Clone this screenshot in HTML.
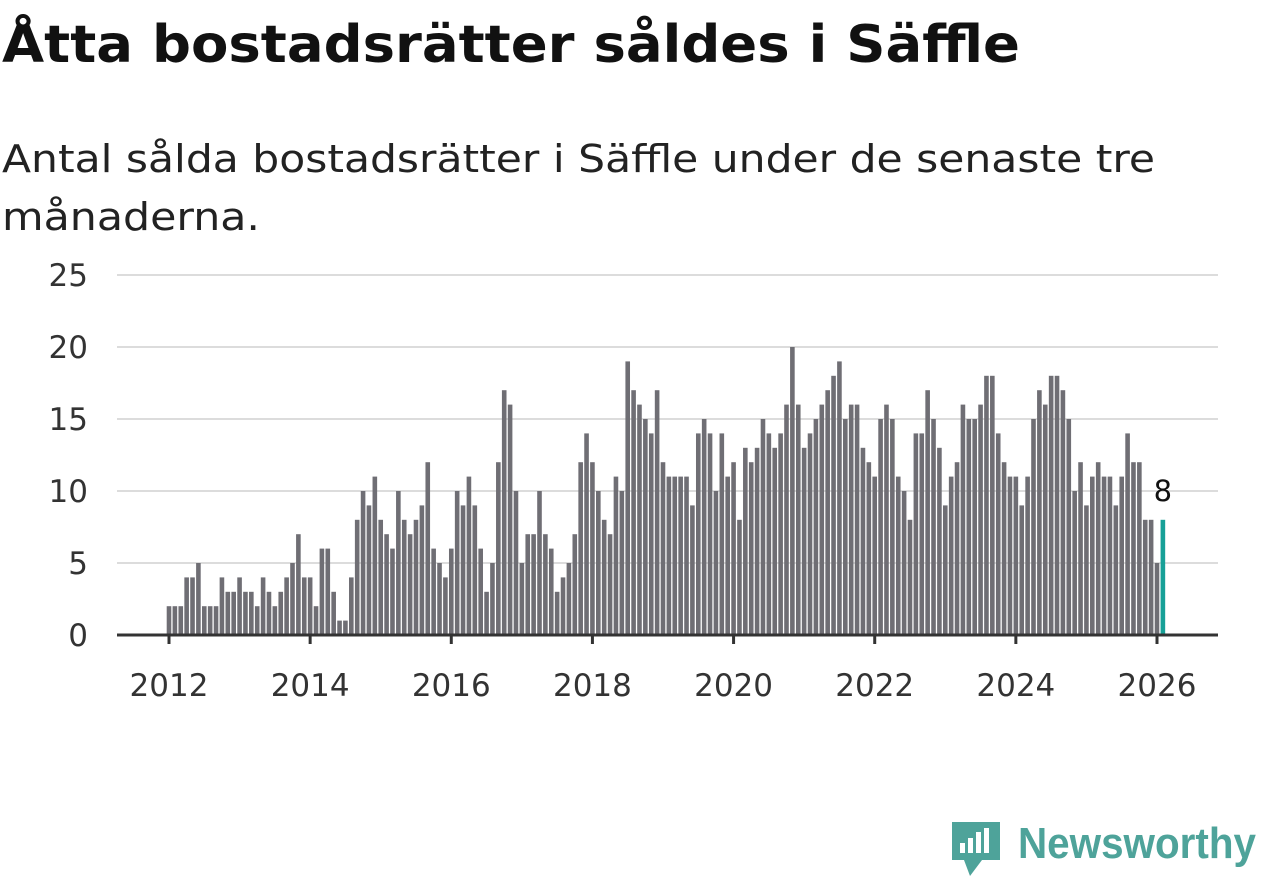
<!DOCTYPE html>
<html><head><meta charset="utf-8">
<style>
html,body{margin:0;padding:0;background:#fff;}
svg{display:block;font-family:"DejaVu Sans","Liberation Sans",sans-serif;}
</style></head>
<body>
<svg id="chart" width="1262" height="879" viewBox="0 0 1262 879">
  <text x="2" y="62" font-size="52" font-weight="bold" fill="#111" textLength="1018" lengthAdjust="spacingAndGlyphs">Åtta bostadsrätter såldes i Säffle</text>
  <text x="2" y="172" font-size="38" fill="#222" textLength="1153" lengthAdjust="spacingAndGlyphs">Antal sålda bostadsrätter i Säffle under de senaste tre</text>
  <text x="2" y="230" font-size="38" fill="#222" textLength="258" lengthAdjust="spacingAndGlyphs">månaderna.</text>
  <g id="grid"></g>
  <g id="bars"></g>
  <g id="axes"></g>
  <g>
    <path d="M952 822 h48 v38 h-18 l-12 16 l-6 -16 h-12 z" fill="#4ea39a"/>
    <rect x="960" y="843" width="5" height="10" fill="#fff"/>
    <rect x="968" y="838" width="5" height="15" fill="#fff"/>
    <rect x="976" y="832" width="5" height="21" fill="#fff"/>
    <rect x="984" y="828" width="5" height="25" fill="#fff"/>
    <text x="1018" y="858" font-size="44" font-weight="bold" fill="#4ea39a" textLength="238" lengthAdjust="spacingAndGlyphs" font-family="Liberation Sans, sans-serif">Newsworthy</text>
  </g>
</svg>
<script>
const yTicks = [0, 5, 10, 15, 20, 25];
const xTickLabels = ["2012","2014","2016","2018","2020","2022","2024","2026"];
const xTickIndex = [0, 24, 48, 72, 96, 120, 144, 168];
const values2012 = [2,2,2,4,4,5,2,2,2,4,3,3];
const values2013 = [4,3,3,2,4,3,2,3,4,5,7,4];
const values2014 = [4,2,6,6,3,1,1,4,8,10,9,11];
const values2015 = [8,7,6,10,8,7,8,9,12,6,5,4];
const values2016 = [6,10,9,11,9,6,3,5,12,17,16,10];
const values2017 = [5,7,7,10,7,6,3,4,5,7,12,14];
const values2018 = [12,10,8,7,11,10,19,17,16,15,14,17];
const values2019 = [12,11,11,11,11,9,14,15,14,10,14,11];
const values2020 = [12,8,13,12,13,15,14,13,14,16,20,16];
const values2021 = [13,14,15,16,17,18,19,15,16,16,13,12];
const values2022 = [11,15,16,15,11,10,8,14,14,17,15,13];
const values2023 = [9,11,12,16,15,15,16,18,18,14,12,11];
const values2024 = [11,9,11,15,17,16,18,18,17,15,10,12];
const values2025 = [9,11,12,11,11,9,11,14,12,12,8,8];
const values2026 = [5,8];

const values = [].concat(values2012,values2013,values2014,values2015,values2016,values2017,values2018,values2019,values2020,values2021,values2022,values2023,values2024,values2025,values2026);
const NS="http://www.w3.org/2000/svg";
const x0=169, step=(1157-169)/168;
const xScale = i => x0 + i*step;
const yScale = v => 635 - v*(360/25);
function mk(tag, attrs, parent){const e=document.createElementNS(NS,tag);for(const k in attrs)e.setAttribute(k,attrs[k]);parent.appendChild(e);return e;}
const grid=document.getElementById('grid'), bars=document.getElementById('bars'), axes=document.getElementById('axes');
yTicks.forEach(t=>{
  if(t>0){const l=mk('line',{x1:117,x2:1218,y1:yScale(t),y2:yScale(t),stroke:'#dcdcdc','stroke-width':2},grid);
  
  }
  const tx=mk('text',{x:88,y:yScale(t)+11,'font-size':31,fill:'#333','text-anchor':'end'},axes);
  tx.textContent=t;
  
  
});
values.forEach((v,i)=>{
  const last=i===values.length-1;
  const r=mk('rect',{x:xScale(i)-2.3,y:yScale(v),width:4.6,height:yScale(0)-yScale(v),fill:last?'#17a097':'#6f6e74'},bars);
  
  
  if(last){const lb=mk('text',{x:xScale(i),y:yScale(v)-19,'font-size':29,fill:'#111','text-anchor':'middle'},bars);
    lb.textContent=v;
    
    }
});
const ax=mk('line',{x1:117,x2:1218,y1:635,y2:635,stroke:'#333','stroke-width':3},axes);


xTickLabels.forEach((lab,k)=>{
  const x=xScale(xTickIndex[k]);
  const tk=mk('line',{x1:x,x2:x,y1:635,y2:644,stroke:'#333','stroke-width':3},axes);
  
  
  const tx=mk('text',{x:x,y:696,'font-size':31,fill:'#333','text-anchor':'middle'},axes);
  tx.textContent=lab;
  
  
});
</script>
</body></html>
